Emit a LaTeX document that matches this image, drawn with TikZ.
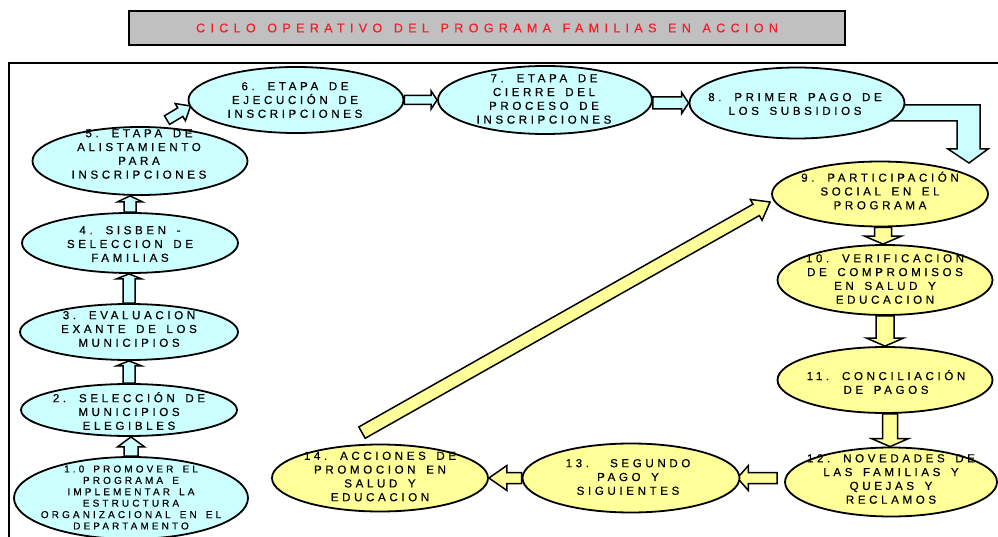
\documentclass[tikz,border=0pt]{standalone}
\usepackage{fontspec}
\setmainfont{Liberation Sans}
\newfontfamily\lsf[LetterSpace=31,WordSpace=1.55,FakeBold=0.4]{Liberation Sans}
\newfontfamily\tsf[LetterSpace=42,WordSpace=1.32,FakeBold=0.3]{Liberation Sans}
\usetikzlibrary{shapes.geometric,calc}
\pgfdeclarelayer{bg}
\pgfsetlayers{bg,main}
\definecolor{cy}{HTML}{CCFFFF}
\definecolor{ye}{HTML}{FFFF99}
\definecolor{gr}{HTML}{C0C0C0}
\definecolor{tred}{RGB}{245,30,40}
\tikzset{
 ell/.style={ellipse, draw=black, line width=1.8pt, inner sep=0pt},
 cyell/.style={ell, fill=cy},
 yeell/.style={ell, fill=ye},
 lbl/.style={align=center, inner sep=0pt, font=\lsf\fontsize{11.6}{13.8}\selectfont},
 smlbl/.style={align=center, inner sep=0pt, font=\lsf\fontsize{10}{11.4}\selectfont},
 barrow/.style={draw=black, line width=1.5pt, line join=miter},
}
% #1 options, #2 tail, #3 tip, #4 shaft half width, #5 head half width, #6 head length
\newcommand\blockarr[6][]{%
  \coordinate (ba-s) at (#2);
  \coordinate (ba-e) at (#3);
  \coordinate (ba-h) at ($(ba-e)!#6!(ba-s)$);
  \draw[barrow,#1] ($(ba-s)!#4!90:(ba-e)$) -- ($(ba-h)!#4!-90:(ba-s)$) -- ($(ba-h)!#5!-90:(ba-s)$) -- (ba-e) -- ($(ba-h)!#5!90:(ba-s)$) -- ($(ba-h)!#4!90:(ba-s)$) -- ($(ba-s)!#4!-90:(ba-e)$) -- cycle;}
\begin{document}
\begin{tikzpicture}[x=1pt,y=-1pt]
\useasboundingbox (0,0) rectangle (998,537);
\begin{pgfonlayer}{bg}
\fill[white] (0,0) rectangle (998,537);
\end{pgfonlayer}
% title
\node[draw, line width=1.8pt, fill=gr, minimum width=716pt, minimum height=34pt, inner sep=0pt,
      font=\tsf\fontsize{12.6}{15}\selectfont, text=tred] (title) at (487,28) {CICLO OPERATIVO DEL PROGRAMA FAMILIAS EN ACCION};
% frame
\draw[line width=1.5pt] (9,545) -- (9,63) -- (1005,63);
% ellipses
\node[cyell, minimum width=234pt, minimum height=82pt] (e1) at (131,498) {};
\node[cyell, minimum width=216pt, minimum height=52pt] (e2) at (129,410) {};
\node[cyell, minimum width=218pt, minimum height=56pt] (e3) at (129,332) {};
\node[cyell, minimum width=216pt, minimum height=60pt] (e4) at (130,243) {};
\node[cyell, minimum width=215pt, minimum height=68pt] (e5) at (140,161) {};
\node[cyell, minimum width=215pt, minimum height=66pt] (e6) at (296,100) {};
\node[cyell, minimum width=214pt, minimum height=68pt] (e7) at (545,100) {};
\node[cyell, minimum width=215pt, minimum height=71pt] (e8) at (797,103) {};
\node[yeell, minimum width=216pt, minimum height=65pt] (e9) at (880,194) {};
\node[yeell, minimum width=215pt, minimum height=70pt] (e10) at (885,280) {};
\node[yeell, minimum width=215pt, minimum height=66pt] (e11) at (885,380) {};
\node[yeell, minimum width=212pt, minimum height=69pt] (e12) at (891,482) {};
\node[yeell, minimum width=217pt, minimum height=69pt] (e13) at (631,478) {};
\node[yeell, minimum width=216pt, minimum height=67pt] (e14) at (380,478) {};
% labels
\node[smlbl] (t1) at (131,497.5) {1.0 PROMOVER EL\\PROGRAMA E\\IMPLEMENTAR LA\\ESTRUCTURA\\ORGANIZACIONAL EN EL\\DEPARTAMENTO};
\node[lbl] (t2) at (129,411) {2. SELECCIÓN DE\\MUNICIPIOS\\ELEGIBLES};
\node[lbl] (t3) at (129,329) {3. EVALUACION\\EXANTE DE LOS\\MUNICIPIOS};
\node[lbl] (t4) at (130,244) {4. SISBEN -\\SELECCION DE\\FAMILIAS};
\node[lbl] (t5) at (139,154) {5. ETAPA DE\\ALISTAMIENTO\\PARA\\INSCRIPCIONES};
\node[lbl] (t6) at (295,100) {6. ETAPA DE\\EJECUCIÓN DE\\INSCRIPCIONES};
\node[lbl] (t7) at (544,99) {7. ETAPA DE\\CIERRE DEL\\PROCESO DE\\INSCRIPCIONES};
\node[lbl] (t8) at (795,104) {8. PRIMER PAGO DE\\LOS SUBSIDIOS};
\node[lbl] (t9) at (880,190.5) {9. PARTICIPACIÓN\\SOCIAL EN EL\\PROGRAMA};
\node[lbl] (t10) at (885,279) {10. VERIFICACION\\DE COMPROMISOS\\EN SALUD Y\\EDUCACION};
\node[lbl] (t11) at (886,382) {11. CONCILIACIÓN\\DE PAGOS};
\node[lbl] (t12) at (891,479) {12. NOVEDADES DE\\LAS FAMILIAS Y\\QUEJAS Y\\RECLAMOS};
\node[lbl] (t13) at (628,477) {13.\ \ SEGUNDO\\PAGO Y\\SIGUIENTES};
\node[lbl] (t14) at (380,476.5) {14. ACCIONES DE\\PROMOCION EN\\SALUD Y\\EDUCACION};
% arrows
\begin{pgfonlayer}{bg}
\blockarr[fill=cy]{e1.north}{e1.north |- e2.south}{7pt}{13.5pt}{10pt}
\blockarr[fill=cy]{e2.north}{e2.north |- e3.south}{6pt}{12.5pt}{5pt}
\blockarr[fill=cy]{e3.north}{e3.north |- e4.south}{6pt}{12.5pt}{5pt}
\blockarr[fill=cy]{e4.north}{e4.north |- e5.south}{6pt}{12.5pt}{6pt}
\blockarr[fill=cy]{$(e5.north)+(27,-6)$}{$(e6.west)+(3,6)$}{5pt}{10pt}{12pt}
\blockarr[fill=cy]{e6.east}{e6.east -| e7.west}{4.5pt}{9pt}{6pt}
\blockarr[fill=cy]{e7.east |- e8.west}{e8.west}{6pt}{10.5pt}{7pt}
\draw[barrow, fill=cy] (890,105) -- (980,105) -- (980,149) -- (988,149) -- (969,163) -- (948,149) -- (957,149) -- (957,121) -- (890,121) -- cycle;
\blockarr[fill=ye]{$(e9.south)+(3,0)$}{$(e9.south |- e10.north)+(3,0)$}{8.5pt}{18.5pt}{8pt}
\blockarr[fill=ye]{e10.south}{e10.south |- e11.north}{9pt}{18.5pt}{8pt}
\blockarr[fill=ye]{$(e11.south)+(5,0)$}{$(e11.south |- e12.north)+(5,0)$}{7.5pt}{18.5pt}{8pt}
\blockarr[fill=ye]{$(e13.east -| e12.west)+(-7,0)$}{$(e13.east)+(-3,0)$}{5.5pt}{12.5pt}{11pt}
\blockarr[fill=ye]{e13.west}{e14.east}{5.5pt}{12.5pt}{18pt}
\blockarr[fill=ye]{$(e14.north)+(-18,-11)$}{$(e9.west)+(-1,8)$}{6.5pt}{12pt}{16pt}
\end{pgfonlayer}
\end{tikzpicture}
\end{document}
